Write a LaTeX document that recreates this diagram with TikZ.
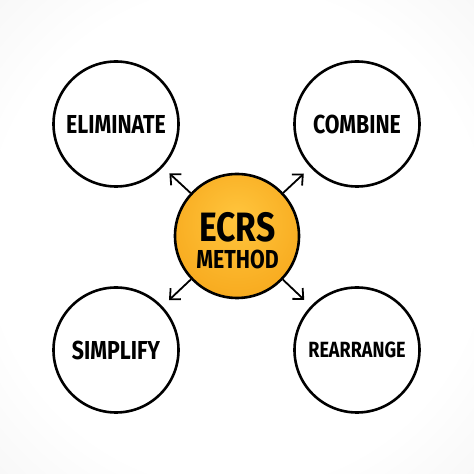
\documentclass[tikz,border=0pt]{standalone}
\usepackage{fontspec}
\newfontfamily\markerfont[FakeStretch=0.82]{Fira Sans}
\usetikzlibrary{arrows.meta, positioning}

\definecolor{orangelight}{HTML}{FFC53D}
\definecolor{orangedark}{HTML}{F39A0C}

\pgfdeclareradialshading{backdrop}{\pgfpoint{0bp}{0bp}}{%
  color(0bp)=(white); color(26bp)=(white); color(50bp)=(black!7); color(71bp)=(black!11)}
\pgfdeclareradialshading{orangeglow}{\pgfpoint{0bp}{8bp}}{%
  color(0bp)=(orangelight); color(48bp)=(orangedark); color(60bp)=(orangedark)}

\begin{document}
\begin{tikzpicture}[x=1pt, y=1pt,
    >={Straight Barb[length=8pt, width=15pt, line width=1.8pt]},
    idea/.style={circle, draw, line width=2.6pt, fill=white, minimum size=125pt,
      inner sep=0pt, font=\markerfont\bfseries\fontsize{26}{28}\selectfont},
    hub/.style={circle, draw, line width=2.6pt, shading=orangeglow,
      minimum size=124pt, inner sep=0pt},
    hubtext/.style={inner sep=0pt, align=center,
      font=\markerfont\bfseries\fontsize{26}{26.5}\selectfont},
    arrowline/.style={->, line width=1.8pt, shorten >=9pt}]

  % backdrop
  \shade[shading=backdrop] (0,0) rectangle (474,474);
  \useasboundingbox (0,0) rectangle (474,474);

  % centre circle
  \node[hub] (hub) at (237,238) {};
  \node[hubtext] (title) at (237.5,233.5) {{\fontsize{41}{26.5}\selectfont ECRS}\\METHOD};

  % outer circles
  \node[idea] (elim) at (116,350) {ELIMINATE};
  \node[idea] (comb) at (357,350) {COMBINE};
  \node[idea] (simp) at (116,124) {SIMPLIFY};
  \node[idea, font=\markerfont\bfseries\fontsize{22}{24}\selectfont] (rear) at (357,124) {REARRANGE};

  \draw[arrowline] (hub) -- (elim);
  \draw[arrowline] (hub) -- (comb);
  \draw[arrowline] (hub) -- (simp);
  \draw[arrowline] (hub) -- (rear);
\end{tikzpicture}
\end{document}
